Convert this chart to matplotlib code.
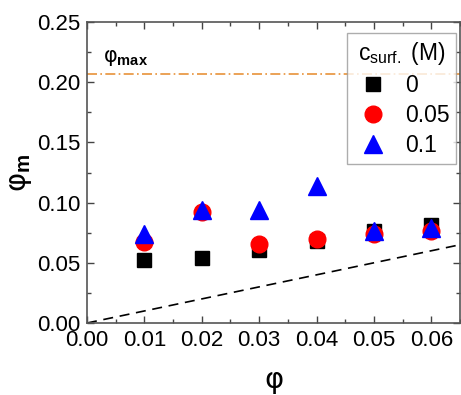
import numpy as np
import matplotlib
matplotlib.use("Agg")
import matplotlib.pyplot as plt
from matplotlib.ticker import MultipleLocator

plt.rcParams['font.family'] = ['Liberation Sans', 'DejaVu Sans']
plt.rcParams['mathtext.fontset'] = 'custom'
plt.rcParams['mathtext.rm'] = 'Liberation Sans'
plt.rcParams['mathtext.it'] = 'Liberation Sans'
plt.rcParams['mathtext.bf'] = 'Liberation Sans:bold'

# data
phi = [0.01, 0.02, 0.03, 0.04, 0.05, 0.06]
phim_0 = [0.052, 0.054, 0.061, 0.068, 0.076, 0.081]
phim_005 = [0.067, 0.092, 0.066, 0.070, 0.074, 0.076]
phim_01 = [0.074, 0.094, 0.094, 0.114, 0.076, 0.079]
conc_labels = ['0', '0.05', '0.1']
phi_max = 0.207
ref_x = [0.0, 0.065]

fig = plt.figure(figsize=(4.61, 3.95), dpi=100)
ax = fig.add_axes([87/461, 1-323/395, 373/461, 301/395])

ax.axhline(phi_max, color='#E8923A', ls=(0, (6, 2, 1, 2)), lw=1.2, zorder=1)
ax.plot(ref_x, ref_x, 'k--', lw=1.2, dashes=(6, 4), zorder=1)
ax.text(0.0028, 0.2115, r'φ$_{\mathbf{max}}$', fontsize=15, va='bottom',
        family=['DejaVu Sans'])

h0, = ax.plot(phi, phim_0, 's', color='black', ms=10, ls='none', zorder=3)
h1, = ax.plot(phi, phim_005, 'o', color='red', ms=12, ls='none', zorder=4)
h2, = ax.plot(phi, phim_01, '^', color='blue', ms=13, ls='none', zorder=5)

ax.set_xlim(0, 0.065)
ax.set_ylim(0, 0.25)
ax.xaxis.set_major_locator(MultipleLocator(0.01))
ax.xaxis.set_minor_locator(MultipleLocator(0.005))
ax.yaxis.set_major_locator(MultipleLocator(0.05))
ax.yaxis.set_minor_locator(MultipleLocator(0.025))
ax.xaxis.set_major_formatter(plt.FormatStrFormatter('%.2f'))
ax.yaxis.set_major_formatter(plt.FormatStrFormatter('%.2f'))
ax.tick_params(which='both', direction='in', top=True, right=True, color='#444444',
               labelsize=16, width=1)
ax.tick_params(which='major', length=5, pad=5)
ax.tick_params(which='minor', length=3)
for s in ax.spines.values():
    s.set_color('#555555')
    s.set_linewidth(1.2)

ax.set_xlabel('φ', fontsize=21, labelpad=11, family=['DejaVu Sans'])
ax.set_ylabel(r'φ$_{\mathbf{m}}$', fontsize=21, labelpad=2, family=['DejaVu Sans'])

leg = ax.legend([h0, h1, h2], conc_labels, title=r'c$_{\mathrm{surf.}}$ (M)',
                loc='upper right', bbox_to_anchor=(0.99, 0.963), fontsize=16.5,
                title_fontsize=16.5, frameon=True, fancybox=False, edgecolor='#999999',
                handletextpad=0.6, borderpad=0.3, labelspacing=0.3,
                handlelength=1.6, borderaxespad=0)
leg.get_frame().set_linewidth(1.0)

fig.savefig('out.png', dpi=100)
